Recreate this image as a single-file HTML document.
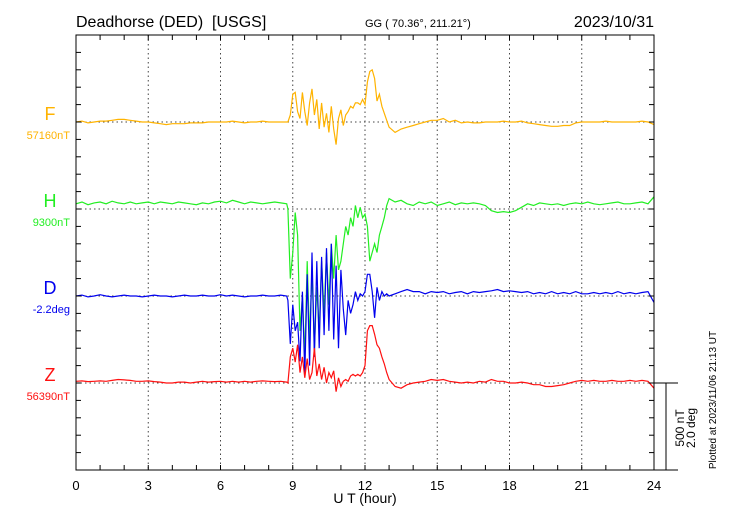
<!DOCTYPE html>
<html><head><meta charset="utf-8"><style>
body{margin:0;background:#fff;}
svg{display:block;font-family:"Liberation Sans",sans-serif;}
text{white-space:pre;}
</style></head><body>
<svg id="chart" width="730" height="520">
<text x="76" y="27" font-size="16" xml:space="preserve">Deadhorse (DED)  [USGS]</text>
<text x="365" y="27" font-size="11">GG ( 70.36°, 211.21°)</text>
<text x="654" y="27" font-size="16" text-anchor="end">2023/10/31</text>
<g id="grid"></g><g id="series"></g><g id="axes"></g>
<text x="365" y="503" font-size="14" text-anchor="middle">U T (hour)</text>
<text transform="translate(684,428) rotate(-90)" font-size="12" text-anchor="middle">500 nT</text>
<text transform="translate(695,428) rotate(-90)" font-size="12" text-anchor="middle">2.0 deg</text>
<text transform="translate(716,400) rotate(-90)" font-size="10" text-anchor="middle">Plotted at 2023/11/06 21:13 UT</text>
</svg>
<script>
const hoursQuiet1=[0,0.25,0.5,0.75,1,1.25,1.5,1.75,2,2.25,2.5,2.75,3,3.25,3.5,3.75,4,4.25,4.5,4.75,5,5.25,5.5,5.75,6,6.25,6.5,6.75,7,7.25,7.5,7.75,8,8.25,8.5,8.75];
const hoursStorm=[8.8,8.9,9.0,9.1,9.2,9.3,9.4,9.5,9.6,9.7,9.8,9.9,10.0,10.1,10.2,10.3,10.4,10.5,10.6,10.7,10.8,10.9,11.0,11.1,11.2,11.3,11.4,11.5,11.6,11.7,11.8,11.9,12.0,12.1,12.2,12.3,12.4,12.5,12.6,12.7,12.8,12.9,13.0];
const hoursQuiet2=[13.25,13.5,13.75,14,14.25,14.5,14.75,15,15.25,15.5,15.75,16,16.25,16.5,16.75,17,17.25,17.5,17.75,18,18.25,18.5,18.75,19,19.25,19.5,19.75,20,20.25,20.5,20.75,21,21.25,21.5,21.75,22,22.25,22.5,22.75,23,23.25,23.5,23.75,24];
const hours=hoursQuiet1.concat(hoursStorm,hoursQuiet2);
const xTicks=[0,3,6,9,12,15,18,21,24];
const seriesNames=["F","H","D","Z"];
const baseLabels=["57160nT","9300nT","-2.2deg","56390nT"];
const valuesF=[0,5,-5,0,5,5,10,15,15,10,5,0,0,-5,-10,-15,-10,-10,-10,-5,-5,-5,0,0,0,0,5,0,-5,0,0,5,0,0,0,0,
 0,40,160,170,60,20,170,60,-20,110,190,40,130,-40,110,-30,50,-60,90,-40,-130,20,70,-20,40,60,90,80,110,110,100,130,100,230,290,300,250,120,160,90,50,10,-30,
 -60,-40,-30,-20,-10,0,10,10,20,0,10,-5,0,-5,-5,0,0,0,5,0,0,5,-5,-10,-15,-20,-25,-25,-20,-20,-5,0,0,0,0,5,0,0,0,0,0,5,0,-15];
const valuesH=[30,40,25,35,40,30,45,35,30,40,30,35,40,30,40,35,30,40,35,30,25,35,30,40,45,35,50,40,30,40,35,30,35,40,35,30,
 0,-400,-250,-20,-150,-700,-500,-850,-300,-750,-350,-800,-450,-700,-300,-600,-250,-550,-200,-400,-150,-350,-300,-200,-100,-150,-50,-100,20,-50,10,-50,-30,-100,-300,-250,-200,-250,-150,-100,-50,20,60,
 40,50,30,20,40,30,40,20,30,40,25,35,30,35,30,20,-10,-20,-15,-20,-10,10,30,20,35,30,25,30,20,30,35,30,40,30,25,30,35,40,30,30,35,40,30,70];
const valuesD=[0,0.02,-0.02,0,0.03,0,-0.02,0,0.02,0,0,-0.02,0,0.02,0,0,-0.02,0,0.02,0,0,0.02,0,0,0.03,0,0.02,0,-0.02,0,0,0.02,0,0,0.02,0,
 -0.1,-1.1,-0.2,-0.8,-0.6,-1.5,0.1,-1.8,0.5,-1.6,1.0,-1.4,0.8,-1.2,0.9,-0.9,1.1,-0.8,1.2,-1.0,0.7,-1.2,0.6,-0.3,-0.9,-0.1,-0.4,-0.2,0.1,-0.1,0.05,0,0.1,0.5,0.5,0.1,-0.5,0.2,-0.1,0.1,0,0.05,0,
 0.05,0.1,0.15,0.1,0.1,0.05,0.1,0.08,0.1,0.05,0.08,0.1,0.05,0.1,0.08,0.1,0.12,0.15,0.1,0.12,0.1,0.08,0.1,0.05,0.08,0.05,0.1,0.05,0.08,0.05,0.1,0.05,0.05,0.08,0.05,0.08,0.05,0.1,0.05,0.08,0.05,0.08,0.1,-0.15];
const valuesZ=[10,12,8,10,12,10,15,20,18,15,10,10,12,8,5,0,0,5,5,0,5,10,5,8,10,5,10,5,10,5,10,12,10,8,10,5,
 0,150,200,120,220,60,150,30,140,20,60,200,40,110,20,90,0,60,30,70,-50,30,-20,10,20,10,40,50,40,50,40,60,100,300,330,330,280,220,200,150,110,60,20,
 -20,-30,-10,0,5,10,20,15,20,10,5,0,5,0,10,5,20,10,10,0,0,5,0,-10,-10,-20,-20,-15,-10,0,10,15,10,15,10,10,15,10,10,15,10,15,10,-30];
const seriesValues=[valuesF,valuesH,valuesD,valuesZ];
const colors=["#ffb300","#22ee22","#0000ee","#ff1010"];
const baselines=[122,209,296,383];

const NS="http://www.w3.org/2000/svg";
const X0=76,X1=654,Y0=35,Y1=470;
const xScale=h=>X0+(h/24)*(X1-X0);
const pxPerNT=87/500, pxPerDeg=87/2;
function yScale(i,v){return baselines[i]-v*(i===2?pxPerDeg:pxPerNT);}
function mk(tag,attrs,parent){const e=document.createElementNS(NS,tag);for(const k in attrs)e.setAttribute(k,attrs[k]);parent.appendChild(e);return e;}
const grid=document.getElementById('grid'),ser=document.getElementById('series'),ax=document.getElementById('axes');
xTicks.forEach(t=>{
 if(t>0&&t<24){const l=mk('line',{x1:xScale(t),x2:xScale(t),y1:Y0,y2:Y1,stroke:'#444','stroke-dasharray':'1.5,3','stroke-width':1},grid);
 
 }
 const tx=mk('text',{x:xScale(t),y:490,'font-size':13,'text-anchor':'middle'},ax);tx.textContent=t;
 
 
});
baselines.forEach((b,i)=>{
 const l=mk('line',{x1:X0,x2:X1,y1:b,y2:b,stroke:'#444','stroke-dasharray':'1.5,3','stroke-width':1},grid);
 
 
 const n=mk('text',{x:50,y:b-2,'font-size':18,'text-anchor':'middle',fill:colors[i]},ax);n.textContent=seriesNames[i];
 
 
 const bl=mk('text',{x:70,y:b+17,'font-size':11,'text-anchor':'end',fill:colors[i]},ax);bl.textContent=baseLabels[i];
 
 
});
[1,2,0,3].forEach(i=>{
 const vals=seriesValues[i];
 const pts=hours.map((h,k)=>xScale(h).toFixed(1)+','+yScale(i,vals[k]).toFixed(1)).join(' ');
 const p=mk('polyline',{points:pts,fill:'none',stroke:colors[i],'stroke-width':1.2},ser);
 
 
});
const fr=mk('rect',{x:X0,y:Y0,width:X1-X0,height:Y1-Y0,fill:'none',stroke:'#000','stroke-width':1},ax);


for(let h=0;h<=24;h++){mk('line',{x1:xScale(h),x2:xScale(h),y1:Y0,y2:Y0+5,stroke:'#000'},ax);mk('line',{x1:xScale(h),x2:xScale(h),y1:Y1,y2:Y1-5,stroke:'#000'},ax);}
for(let k=0;k<=25;k++){const y=Y0+k*87/5;mk('line',{x1:X0,x2:X0+5,y1:y,y2:y,stroke:'#000'},ax);mk('line',{x1:X1,x2:X1-5,y1:y,y2:y,stroke:'#000'},ax);}
const sb=mk('g',{},ax);


mk('line',{x1:X1,x2:678,y1:383,y2:383,stroke:'#000'},sb);
mk('line',{x1:X1,x2:678,y1:Y1,y2:Y1,stroke:'#000'},sb);
mk('line',{x1:666,x2:666,y1:383,y2:Y1,stroke:'#000'},sb);
</script>
</body></html>
